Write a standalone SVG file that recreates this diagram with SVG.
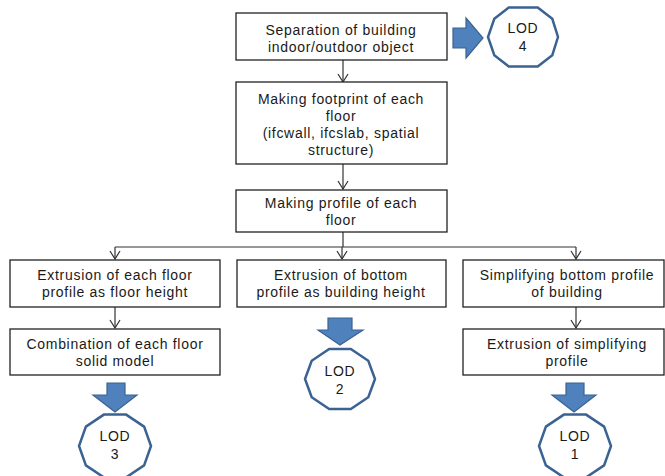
<svg xmlns="http://www.w3.org/2000/svg" width="665" height="476" viewBox="0 0 665 476">
<defs>
<style>
.box{fill:#fff;stroke:#222;stroke-width:1.3}
.t{font-family:"Liberation Sans",Arial,sans-serif;font-size:14px;letter-spacing:0.7px;fill:#1a1a1a;text-anchor:middle}
.c{fill:none;stroke:#333;stroke-width:1.2}
.lod{fill:#fff;stroke:#3B6392;stroke-width:2.5;stroke-linejoin:miter}
.ba{fill:#4F81BD;stroke:#3B6392;stroke-width:1.2}
</style>
<marker id="ah" viewBox="0 0 10 12" refX="9" refY="6" markerWidth="10" markerHeight="12" markerUnits="userSpaceOnUse" orient="auto">
<path d="M1,1 L9,6 L1,11" fill="none" stroke="#333" stroke-width="1.2"/>
</marker>
</defs>
<rect width="665" height="476" fill="#fff"/>
<g id="connectors">
<path class="c" d="M343,60 V82" marker-end="url(#ah)"/>
<path class="c" d="M343,164 V189" marker-end="url(#ah)"/>
<path class="c" d="M343,232 V247 M115,247 H576"/>
<path class="c" d="M115,247 V259" marker-end="url(#ah)"/>
<path class="c" d="M342,247 V259" marker-end="url(#ah)"/>
<path class="c" d="M576,247 V259" marker-end="url(#ah)"/>
<path class="c" d="M115,307 V328" marker-end="url(#ah)"/>
<path class="c" d="M576,307 V328" marker-end="url(#ah)"/>
</g>
<g id="n1"><rect class="box" x="236" y="13" width="211" height="47"/>
<text class="t" x="341" y="35">Separation of building</text><text class="t" x="341" y="52">indoor/outdoor object</text></g>
<g id="n2"><rect class="box" x="236" y="82" width="211" height="82"/>
<text class="t" x="341" y="104">Making footprint of each</text><text class="t" x="341" y="121">floor</text><text class="t" x="341" y="138">(ifcwall, ifcslab, spatial</text><text class="t" x="341" y="155">structure)</text></g>
<g id="n3"><rect class="box" x="236" y="190" width="211" height="42"/>
<text class="t" x="341" y="208">Making profile of each</text><text class="t" x="341" y="225">floor</text></g>
<g id="n4"><rect class="box" x="10" y="260" width="210" height="47"/>
<text class="t" x="115" y="280">Extrusion of each floor</text><text class="t" x="115" y="297">profile as floor height</text></g>
<g id="n5"><rect class="box" x="237" y="260" width="209" height="47"/>
<text class="t" x="341" y="280">Extrusion of bottom</text><text class="t" x="341" y="297">profile as building height</text></g>
<g id="n6"><rect class="box" x="463" y="260" width="201" height="47"/>
<text class="t" x="567" y="280">Simplifying bottom profile</text><text class="t" x="567" y="297">of building</text></g>
<g id="n7"><rect class="box" x="10" y="329" width="210" height="46"/>
<text class="t" x="115" y="349">Combination of each floor</text><text class="t" x="115" y="366">solid model</text></g>
<g id="n8"><rect class="box" x="463" y="329" width="201" height="46"/>
<text class="t" x="567" y="349">Extrusion of simplifying</text><text class="t" x="567" y="366">profile</text></g>
<g id="arrows">
<path class="ba" d="M453,28 H466 V18 L483,38 L466,58 V48 H453 Z"/>
<path class="ba" d="M107,383 H125 V395 H137 L115,412 L93,395 H107 Z"/>
<path class="ba" d="M328,318 H352 V330 H363 L340,345 L318,330 H328 Z"/>
<path class="ba" d="M566,383 H584 V395 H596 L574,412 L552,395 H566 Z"/>
</g>
<g id="lod4"><polygon class="lod" points="558,37 552.3,55.2 537.7,66.5 508.8,66.5 494.3,55.2 488,37 494.3,18.8 508.8,7.5 537.7,7.5 552.3,18.8"/>
<text class="t" x="523" y="33">LOD</text><text class="t" x="523" y="51">4</text></g>
<g id="lod3"><polygon class="lod" points="151,446 144.1,465.4 126.1,477.4 103.9,477.4 85.9,465.4 79,446 85.9,426.6 103.9,414.6 126.1,414.6 144.1,426.6"/>
<text class="t" x="115" y="441">LOD</text><text class="t" x="115" y="459">3</text></g>
<g id="lod2"><polygon class="lod" points="375,379 368.3,397.2 350.8,409 329.2,409 311.7,397.2 305,379 311.7,360.8 329.2,349 350.8,349 368.3,360.8"/>
<text class="t" x="340" y="376">LOD</text><text class="t" x="340" y="394">2</text></g>
<g id="lod1"><polygon class="lod" points="611,446 604.1,465.4 586.1,477.4 563.9,477.4 545.9,465.4 539,446 545.9,426.6 563.9,414.6 586.1,414.6 604.1,426.6"/>
<text class="t" x="575" y="441">LOD</text><text class="t" x="575" y="459">1</text></g>
</svg>
